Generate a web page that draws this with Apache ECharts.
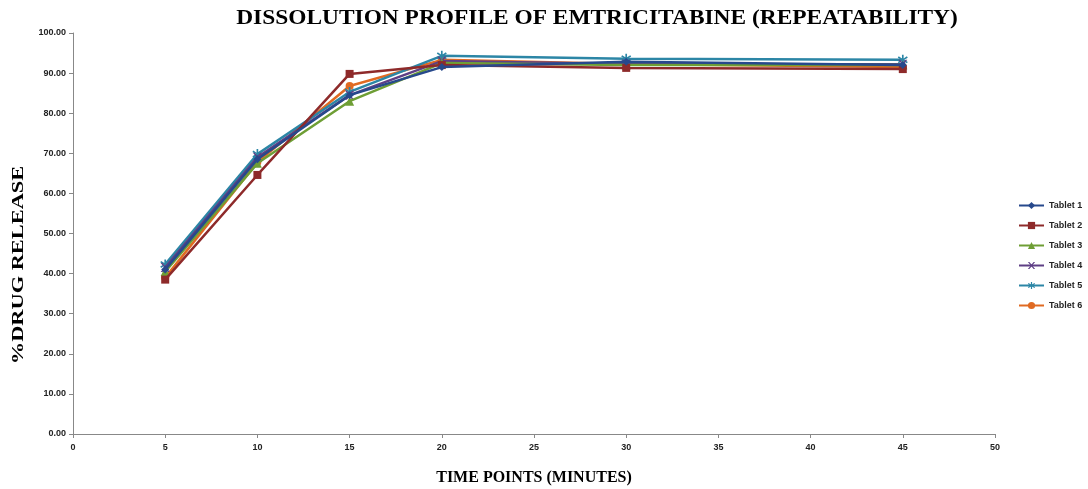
<!DOCTYPE html>
<html>
<head>
<meta charset="utf-8">
<script src="https://cdn.jsdelivr.net/npm/echarts@6/dist/echarts.min.js"></script>
<style>
  html, body { margin: 0; padding: 0; background: #fff; }
  #chart { width: 1088px; height: 489px; }
</style>
</head>
<body>
<div id="chart"></div>
<script>
// time points (minutes)
var timePoints = [5, 10, 15, 20, 30, 45];
// % drug release per tablet
var tablet1 = [41.0, 68.5, 84.5, 91.5, 92.8, 92.0];
var tablet2 = [38.5, 64.6, 89.8, 92.0, 91.3, 91.0];
var tablet3 = [40.5, 67.5, 83.0, 92.5, 92.0, 92.0];
var tablet4 = [41.5, 69.0, 84.5, 93.0, 92.3, 92.2];
var tablet5 = [42.3, 69.8, 85.3, 94.3, 93.6, 93.3];
var tablet6 = [39.0, 67.8, 86.8, 93.3, 92.3, 91.5];
var seriesNames = ['Tablet 1', 'Tablet 2', 'Tablet 3', 'Tablet 4', 'Tablet 5', 'Tablet 6'];
var seriesColors = ['#27498C', '#8E2A2A', '#6E9E35', '#5E3F85', '#2C86A6', '#E06A22'];

var xMark = 'path://M0,0L2,0L5,3.5L8,0L10,0L6,5L10,10L8,10L5,6.5L2,10L0,10L4,5Z';
var starMark = 'path://M4.2,0H5.8V3.6L8.9,1.5L9.8,2.9L6.5,5L9.8,7.1L8.9,8.5L5.8,6.4V10H4.2V6.4L1.1,8.5L0.2,7.1L3.5,5L0.2,2.9L1.1,1.5L4.2,3.6Z';
var symbols = ['diamond', 'rect', 'triangle', xMark, starMark, 'circle'];
var symbolSizes = [8, 8, 9, 9, 10, 8];

function pairs(vals) {
    var out = [];
    for (var i = 0; i < timePoints.length; i++) {
        out.push([timePoints[i], vals[i]]);
    }
    return out;
}

var allData = [tablet1, tablet2, tablet3, tablet4, tablet5, tablet6];
var series = [];
for (var k = 0; k < allData.length; k++) {
    series.push({
        name: seriesNames[k],
        type: 'line',
        data: pairs(allData[k]),
        symbol: symbols[k],
        symbolSize: symbolSizes[k],
        showAllSymbol: true,
        lineStyle: { width: 2.5, color: seriesColors[k] },
        itemStyle: { color: seriesColors[k] },
        z: 10 - k
    });
}

var myChart = echarts.init(document.getElementById('chart')),
    option = {
        animation: false,
        color: seriesColors,
        // title and y name are stretched wide like the original picture
        graphic: [
            {
                type: 'text',
                x: 597,
                y: 19,
                scaleX: 1.17,
                style: {
                    text: 'DISSOLUTION PROFILE OF EMTRICITABINE (REPEATABILITY)',
                    font: 'bold 20px "Liberation Serif"',
                    fill: '#000',
                    textAlign: 'center',
                    textVerticalAlign: 'middle'
                }
            },
            {
                type: 'text',
                x: 19,
                y: 265,
                rotation: Math.PI / 2,
                scaleX: 1.4,
                style: {
                    text: '%DRUG RELEASE',
                    font: 'bold 16px "Liberation Serif"',
                    fill: '#000',
                    textAlign: 'center',
                    textVerticalAlign: 'middle'
                }
            }
        ],
        legend: {
            orient: 'vertical',
            left: 1013,
            top: 196,
            itemGap: 11,
            itemWidth: 25,
            itemHeight: 9,
            data: seriesNames,
            textStyle: {
                fontFamily: 'Liberation Sans',
                fontWeight: 'bold',
                fontSize: 9,
                color: '#222'
            }
        },
        grid: {
            left: 73,
            right: 93,
            top: 33,
            bottom: 55,
            outerBoundsMode: 'none'
        },
        xAxis: {
            type: 'value',
            min: 0,
            max: 50,
            interval: 5,
            name: 'TIME POINTS (MINUTES)',
            nameLocation: 'middle',
            nameGap: 36,
            nameTextStyle: {
                fontFamily: 'Liberation Serif',
                fontWeight: 'bold',
                fontSize: 16,
                color: '#000'
            },
            axisLine: { lineStyle: { color: '#888', width: 1 } },
            axisTick: { show: true, inside: false, length: 4, lineStyle: { color: '#888' } },
            axisLabel: {
                fontFamily: 'Liberation Sans',
                fontWeight: 'bold',
                fontSize: 9,
                color: '#222',
                margin: 9
            },
            splitLine: { show: false }
        },
        yAxis: {
            type: 'value',
            min: 0,
            max: 100,
            interval: 10,
            axisLine: { show: true, lineStyle: { color: '#888', width: 1 } },
            axisTick: { show: true, inside: false, length: 4, lineStyle: { color: '#888' } },
            axisLabel: {
                fontFamily: 'Liberation Sans',
                fontWeight: 'bold',
                fontSize: 9,
                color: '#222',
                margin: 7,
                formatter: function (v) { return v.toFixed(2); }
            },
            splitLine: { show: false }
        },
        series: series
    };

myChart.setOption(option);
</script>
</body>
</html>
